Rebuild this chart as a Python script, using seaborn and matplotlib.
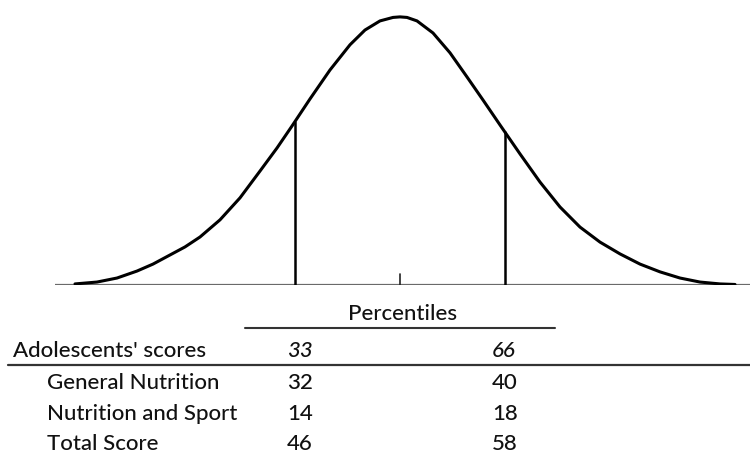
import pandas as pd
import seaborn as sns
import matplotlib
matplotlib.use('Agg')
import matplotlib.pyplot as plt

# curve: x in standard deviations, height in % of peak
curve_x = [-3.25, -3.03, -2.83, -2.63, -2.47, -2.30, -2.15, -2.00, -1.80, -1.60,
           -1.40, -1.23, -1.08, -0.90, -0.70, -0.50, -0.35, -0.20, -0.07, 0.00,
           0.07, 0.17, 0.33, 0.50, 0.67, 0.83, 1.00, 1.20, 1.40, 1.60,
           1.80, 2.00, 2.20, 2.40, 2.60, 2.80, 3.00, 3.20, 3.35]
curve_h = [0.4, 1.1, 2.6, 5.2, 7.8, 11.2, 14.2, 17.9, 24.3, 32.5,
           42.5, 51.1, 59.3, 69.4, 80.2, 89.6, 95.1, 98.5, 99.8, 100.0,
           99.8, 98.5, 94.0, 86.6, 77.6, 69.0, 59.7, 48.9, 38.4, 29.1,
           21.6, 16.0, 11.6, 7.8, 4.9, 2.6, 1.1, 0.4, 0.2]

# percentile cut lines (x position, height) and the centre tick
cut_x = [-1.05, 1.05]
cut_h = [60.8, 57.0]
centre_tick = 4.1

# table
percentile_labels = ['33', '66']
score_names = ['General Nutrition', 'Nutrition and Sport', 'Total Score']
p33_scores = [32, 14, 46]
p66_scores = [40, 18, 58]

sns.set_style('white')
plt.rcParams['font.family'] = ['Lato', 'DejaVu Sans']

fig = plt.figure(figsize=(7.5, 4.55), dpi=100)

# curve axes, x from -4 to 3.5 sd across the full width
ax = fig.add_axes([0, 170 / 455, 1, 285 / 455])
df = pd.DataFrame({'x': curve_x, 'h': curve_h})
ax.plot([-3.45, 3.5], [0, 0], color='#6a6a6a', lw=1.6, solid_capstyle='butt')
sns.lineplot(data=df, x='x', y='h', sort=False, estimator=None,
             color='black', lw=2.2, ax=ax, solid_joinstyle='round')
for cx, ch in zip(cut_x, cut_h):
    ax.plot([cx, cx], [0, ch], color='black', lw=1.8)
ax.plot([0, 0], [0, centre_tick], color='#222222', lw=1.2)
ax.set_xlim(-4.0, 3.5)
ax.set_ylim(0, 106.3)
ax.axis('off')

# table drawn in pixel layout below the curve
tab = fig.add_axes([0, 0, 1, 1], zorder=-1)
tab.set_xlim(0, 750)
tab.set_ylim(455, 0)
tab.axis('off')

fs = 16
fw = 'medium'
txt = '#111111'
tab.text(403, 320, 'Percentiles', ha='center', va='baseline', fontsize=fs,
         fontweight=fw, color=txt)
tab.plot([245, 555], [328, 328], color='#333333', lw=1.5)
tab.text(13, 357, "Adolescents' scores", ha='left', va='baseline', fontsize=fs,
         fontweight=fw, color=txt)
for lab, px in zip(percentile_labels, [287, 492]):
    tab.text(px, 357, lab, ha='left', va='baseline', fontsize=fs, style='italic',
             fontweight=fw, color=txt)
tab.plot([8, 750], [365, 365], color='#333333', lw=1.6)

for i, name in enumerate(score_names):
    yb = 389 + i * 30.5
    tab.text(47, yb, name, ha='left', va='baseline', fontsize=fs, fontweight=fw, color=txt)
    tab.text(287, yb, str(p33_scores[i]), ha='left', va='baseline', fontsize=fs,
             fontweight=fw, color=txt)
    tab.text(492, yb, str(p66_scores[i]), ha='left', va='baseline', fontsize=fs,
             fontweight=fw, color=txt)

fig.savefig('out.png', dpi=100, facecolor='white')
